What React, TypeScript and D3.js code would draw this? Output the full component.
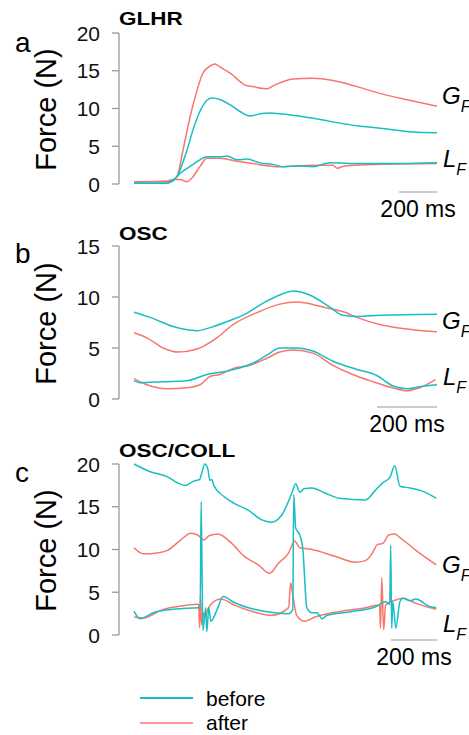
import React from 'react'
import * as d3 from 'd3'

type Pt = [number, number]

// time in ms, force in N
const glhrGfBefore: Pt[] = [[0,0.1],[174,0.1],[190,0.3],[227,1.0],[280,4.5],[312,7.2],[348,9.6],[385,11.1],[412,11.4],[454,11.2],[507,10.5],[560,9.6],[612,9.0],[665,9.3],[718,9.4],[771,9.3],[945,8.7],[1125,7.9],[1177,7.7],[1299,7.4],[1473,6.9],[1600,6.8]]
const glhrGfAfter: Pt[] = [[0,0.3],[190,0.3],[227,1.0],[259,4.5],[296,8.9],[333,12.4],[364,14.7],[401,15.6],[428,15.9],[454,15.5],[523,14.4],[549,13.8],[586,13.1],[628,12.9],[702,12.6],[734,13.0],[771,13.4],[840,13.9],[945,14.0],[1051,13.7],[1177,12.9],[1299,12.0],[1473,11.0],[1600,10.3]]
const glhrLfBefore: Pt[] = [[0,0.1],[174,0.1],[206,0.4],[243,1.4],[269,1.9],[306,2.5],[348,3.2],[385,3.6],[454,3.6],[491,3.7],[544,3.2],[597,3.3],[665,2.8],[734,2.6],[787,2.3],[876,2.4],[945,2.3],[1035,2.8],[1193,2.7],[1404,2.7],[1600,2.8]]
const glhrLfAfter: Pt[] = [[0,0.3],[174,0.4],[206,0.6],[243,0.6],[280,0.3],[306,0.8],[348,2.3],[385,3.4],[454,3.4],[544,3.0],[628,2.7],[771,2.3],[945,2.5],[1051,2.5],[1072,2.1],[1114,2.4],[1299,2.6],[1600,2.7]]

const oscGfBefore: Pt[] = [[0,8.5],[63,7.9],[130,7.1],[210,6.7],[253,7.0],[320,7.7],[376,8.4],[430,9.4],[486,10.2],[530,10.6],[586,10.2],[653,9.0],[696,8.2],[743,8.1],[819,8.2],[1010,8.3]]
const oscGfAfter: Pt[] = [[0,6.5],[43,6.0],[97,5.0],[147,4.6],[210,4.9],[276,6.0],[330,7.3],[420,8.6],[486,9.3],[543,9.5],[620,9.1],[663,8.8],[703,8.5],[743,8.0],[819,7.3],[852,7.1],[929,6.8],[1010,6.6]]
const oscLfBefore: Pt[] = [[0,1.8],[20,1.6],[97,1.7],[177,1.8],[243,2.4],[320,2.8],[396,3.5],[443,4.3],[486,5.0],[543,5.0],[596,4.7],[663,3.7],[743,2.9],[809,2.3],[862,1.3],[909,1.0],[952,1.2],[1010,1.4]]
const oscLfAfter: Pt[] = [[0,2.0],[43,1.4],[110,1.0],[177,1.1],[220,1.4],[253,2.2],[286,2.4],[330,3.0],[386,3.3],[443,4.0],[486,4.6],[530,4.8],[596,4.5],[663,3.3],[729,2.4],[796,1.7],[862,1.1],[909,0.8],[952,1.1],[1005,1.9]]

const collGfBefore: Pt[] = [[0,20.0],[67,19.1],[138,18.5],[179,17.8],[213,17.5],[246,18.0],[271,18.2],[279,18.9],[292,20.0],[304,19.5],[313,18.1],[321,18.2],[329,17.5],[371,16.2],[413,15.4],[471,14.6],[525,13.5],[567,13.2],[609,14.0],[651,16.6],[667,17.7],[684,16.7],[701,17.1],[734,17.2],[788,16.6],[847,16.0],[955,15.8],[992,16.8],[1026,17.8],[1055,18.4],[1076,19.8],[1097,17.4],[1138,17.2],[1192,16.8],[1247,16.0]]
const collGfAfter: Pt[] = [[0,10.2],[38,9.5],[96,9.6],[138,9.9],[192,11.1],[234,11.9],[263,11.7],[288,11.1],[309,11.6],[346,11.8],[400,10.8],[455,9.2],[513,8.2],[559,7.2],[596,8.4],[638,9.6],[663,11.0],[684,10.2],[734,10.0],[830,9.2],[913,8.5],[955,8.7],[984,9.6],[1005,10.6],[1026,10.7],[1051,11.7],[1076,11.8],[1097,11.4],[1163,9.9],[1247,8.2]]
const collLfBefore: Pt[] = [[0,2.8],[25,1.9],[79,2.6],[163,3.0],[268,3.2],[273,3.2],[277,15.6],[284,0.5],[296,3.2],[300,0.4],[309,3.2],[317,1.6],[346,3.2],[367,4.5],[413,3.8],[496,3.0],[580,2.6],[638,2.5],[655,3.0],[659,16.4],[667,12.5],[684,11.7],[696,10.2],[713,3.2],[734,2.6],[755,2.6],[776,1.9],[797,2.3],[888,2.7],[997,3.3],[1038,3.9],[1055,3.6],[1059,10.5],[1063,0.8],[1068,3.9],[1080,0.8],[1097,3.9],[1109,4.3],[1138,4.0],[1163,4.2],[1222,3.3],[1247,3.2]]
const collLfAfter: Pt[] = [[0,2.1],[38,2.0],[121,3.0],[221,3.5],[263,3.6],[267,3.5],[271,0.8],[274,4.5],[279,1.2],[286,2.6],[292,2.0],[304,3.0],[329,3.9],[359,4.2],[413,3.5],[496,2.7],[567,2.3],[638,3.2],[646,6.1],[655,4.7],[671,2.3],[705,1.6],[746,2.1],[817,2.6],[955,3.2],[1013,3.5],[1017,0.8],[1022,6.7],[1030,0.6],[1038,3.5],[1080,4.1],[1109,4.3],[1163,3.7],[1247,3.0]]

const ticks20 = [0, 5, 10, 15, 20]
const ticks15 = [0, 5, 10, 15]
const legendLabels = ['before', 'after']
const BEFORE = '#17BEC3'
const AFTER = '#F8766D'
const font = "'Liberation Sans', Arial, sans-serif"

type PanelProps = {
  letter: string
  title: string
  yMax: number
  ticks: number[]
  yBottom: number
  yTop: number
  tMax: number
  before: Pt[][]
  after: Pt[][]
  bar: [number, number]
  gfY: number
  lfY: number
  titleY: number
  letterY: number
}

const Panel = (p: PanelProps) => {
  const x = d3.scaleLinear().domain([0, p.tMax]).range([134, 437])
  const y = d3.scaleLinear().domain([0, p.yMax]).range([p.yBottom, p.yTop])
  const line = d3.line<Pt>().x(d => x(d[0])).y(d => y(d[1])).curve(d3.curveMonotoneX)
  const axisX = 119
  const barY = p.yBottom + (p.yBottom === 635 ? 5 : 8)
  const midY = (p.yBottom + p.yTop) / 2
  return (
    <g>
      <text x={15} y={p.letterY} fontSize={28} fontFamily={font}>{p.letter}</text>
      <text transform={`translate(${axisX},${p.titleY}) scale(1.25,1)`} fontSize={18} fontWeight='bold' fontFamily={font}>{p.title}</text>
      <text transform={`translate(56,${midY + 1}) rotate(-90)`} textAnchor='middle' fontSize={29} fontFamily={font}>Force (N)</text>
      <line x1={axisX} x2={axisX} y1={y(p.ticks[p.ticks.length - 1])} y2={y(0)} stroke='#999' strokeWidth={1.3} />
      {p.ticks.map(t => (
        <g key={t}>
          <line x1={axisX - 7} x2={axisX} y1={y(t)} y2={y(t)} stroke='#999' strokeWidth={1.3} />
          <text x={axisX - 19} y={y(t)} dy='0.36em' textAnchor='end' fontSize={21} fontFamily={font} fill='#111'>{t}</text>
        </g>
      ))}
      {p.after.map((s, i) => <path key={'a' + i} d={line(s) || ''} fill='none' stroke={AFTER} strokeWidth={1.5} />)}
      {p.before.map((s, i) => <path key={'b' + i} d={line(s) || ''} fill='none' stroke={BEFORE} strokeWidth={1.5} />)}
      <line x1={x(p.bar[0])} x2={x(p.bar[1])} y1={barY} y2={barY} stroke='#999' strokeWidth={1.2} />
      <text x={(x(p.bar[0]) + x(p.bar[1])) / 2} y={barY + 25} textAnchor='middle' fontSize={23} fontFamily={font}>200 ms</text>
      <text x={442} y={p.gfY} fontSize={24} fontStyle='italic' fontFamily={font}>G<tspan fontSize={16} dy={8}>F</tspan></text>
      <text x={443} y={p.lfY} fontSize={24} fontStyle='italic' fontFamily={font}>L<tspan fontSize={16} dy={8}>F</tspan></text>
    </g>
  )
}

export default function App() {
  return (
    <div style={{ position: 'absolute', left: 0, top: 0 }}>
      <svg width={469} height={735} style={{ display: 'block', background: '#fff' }}>
        <Panel letter='a' title='GLHR' yMax={20} ticks={ticks20} yBottom={184} yTop={33} tMax={1600}
          before={[glhrGfBefore, glhrLfBefore]} after={[glhrGfAfter, glhrLfAfter]} bar={[1400, 1600]}
          gfY={104} lfY={167} titleY={25} letterY={52} />
        <Panel letter='b' title='OSC' yMax={15} ticks={ticks15} yBottom={399} yTop={246} tMax={1010}
          before={[oscGfBefore, oscLfBefore]} after={[oscGfAfter, oscLfAfter]} bar={[810, 1010]}
          gfY={329} lfY={385} titleY={240} letterY={263} />
        <Panel letter='c' title='OSC/COLL' yMax={20} ticks={ticks20} yBottom={635} yTop={464} tMax={1250}
          before={[collGfBefore, collLfBefore]} after={[collGfAfter, collLfAfter]} bar={[1060, 1250]}
          gfY={573} lfY={632} titleY={457} letterY={482} />
        {legendLabels.map((l, i) => (
          <g key={l}>
            <line x1={140} x2={193} y1={698 + i * 25} y2={698 + i * 25} stroke={i === 0 ? BEFORE : AFTER} strokeWidth={i === 0 ? 2 : 1.5} />
            <text x={206} y={706 + i * 24} fontSize={21} fontFamily={font}>{l}</text>
          </g>
        ))}
      </svg>
    </div>
  )
}
